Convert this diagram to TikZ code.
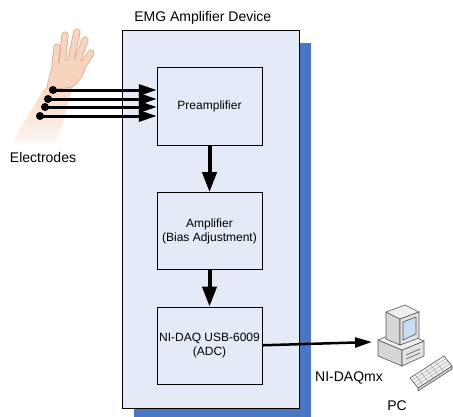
\documentclass[tikz,border=0pt]{standalone}
\usepackage{fontspec}
\setmainfont{Liberation Sans}
\usetikzlibrary{arrows.meta, positioning, calc, shadows}
\definecolor{devfill}{HTML}{E4EAF6}
\definecolor{devshadow}{HTML}{4A76C2}
\definecolor{skin}{HTML}{F7D4BD}
\definecolor{skinline}{HTML}{D8A88E}
\definecolor{pcgray}{HTML}{D6D6D6}
\definecolor{pcline}{HTML}{555555}
\definecolor{pcscreen}{HTML}{C9DDF2}

\tikzset{
  stage/.style={draw, fill=devfill, minimum width=105pt, inner sep=2pt, align=center,
    font=\fontsize{12}{14}\selectfont},
  caption/.style={font=\fontsize{14}{16}\selectfont},
  sig/.style={-{Triangle[length=18pt,width=11pt]}, line width=3pt},
  flow/.style={-{Triangle[length=20pt,width=14pt]}, line width=4pt},
  link/.style={-{Triangle[length=17pt,width=10pt]}, line width=2.5pt},
  pcpart/.style={draw=pcline, line width=0.6pt, line join=round},
}

\begin{document}
\begin{tikzpicture}[x=1pt, y=-1pt]
  \useasboundingbox (0,0) rectangle (453,416);

  % Forearm, fading out towards the elbow
  \shade[top color=skin, bottom color=skin!20, rounded corners=4pt]
    (12,142) -- (46,86) -- (74,83) -- (57,142) -- cycle;

  % Hand: finger outlines, palm, then finger fills
  \foreach \xa/\ya/\xb/\yb in {54/76/57/47, 62/66/65/35, 70/64/77/32, 76/65/85/40, 81/68/91/53}
    \draw[skinline, line width=7.2pt, line cap=round] (\xa,\ya) -- (\xb,\yb);
  \path[fill=skin, draw=skinline, line width=0.6pt, rounded corners=5pt]
    (46,90) -- (52,66) -- (70,58) -- (86,62) -- (84,74) -- (74,87) -- cycle;
  \foreach \xa/\ya/\xb/\yb in {54/76/57/47, 62/66/65/35, 70/64/77/32, 76/65/85/40, 81/68/91/53}
    \draw[skin, line width=5.6pt, line cap=round] (\xa,\ya) -- (\xb,\yb);

  % Amplifier device
  \node[draw, fill=devfill, minimum width=177pt, minimum height=378pt,
    drop shadow={fill=devshadow, opacity=1, shadow xshift=12pt, shadow yshift=-13pt}]
    (dev) at (210.5,219) {};
  \node[caption, anchor=south west] (devlab) at ([xshift=9pt, yshift=2pt]dev.north west) {EMG Amplifier Device};

  % Stages
  \node[stage, minimum height=78pt] (pre) at (209.5,106) {Preamplifier};
  \node[stage, minimum height=77pt, below=47pt of pre] (amp) {Amplifier\\(Bias Adjustment)};
  \node[stage, minimum height=77pt, below=37pt of amp] (daq) {NI-DAQ USB-6009\\(ADC)};

  \draw[flow] (pre) -- (amp);
  \draw[flow] (amp) -- (daq);

  % Electrodes on the forearm
  \foreach \i/\x/\y in {1/53/90, 2/48/99, 3/45/107, 4/40/116} {
    \coordinate (e\i) at (\x,\y);
    \draw[sig] (e\i) -- (e\i -| pre.west);
    \fill (e\i) circle (4pt);
  }
  \node[caption] (elab) at (43,157) {Electrodes};

  % PC
  \path[pcpart, fill=pcgray] (378,340) -- (402,350) -- (402,366) -- (378,356) -- cycle;
  \path[pcpart, fill=pcgray!70] (402,350) -- (424,341) -- (424,356) -- (402,366) -- cycle;
  \path[pcpart, fill=pcgray!40] (378,340) -- (400,331) -- (424,341) -- (402,350) -- cycle;
  \draw[pcpart] (406,355) -- (420,349) (406,359) -- (420,353);
  \path[pcpart, fill=pcgray] (386,312) -- (400,319) -- (400,345) -- (386,339) -- cycle;
  \path[pcpart, fill=pcgray!40] (386,312) -- (405,305) -- (419,312) -- (400,319) -- cycle;
  \path[pcpart, fill=pcgray!70] (400,319) -- (419,312) -- (419,338) -- (400,345) -- cycle;
  \path[pcpart, fill=pcscreen] (403,322) -- (416,317) -- (416,334) -- (403,340) -- cycle;
  % keyboard
  \path[pcpart, fill=pcgray] (418,388) -- (452,366) -- (452,369) -- (418,391) -- cycle;
  \path[pcpart, fill=pcgray!30] (410,378) -- (444,356) -- (452,366) -- (418,388) -- cycle;
  \foreach \t in {0.25,0.5,0.75}
    \draw[pcline!60, line width=0.4pt] ($(410,378)!\t!(418,388)$) -- ($(444,356)!\t!(452,366)$);
  \foreach \t in {0.15,0.3,...,0.9}
    \draw[pcline!60, line width=0.4pt] ($(410,378)!\t!(444,356)$) -- ($(418,388)!\t!(452,366)$);
  \coordinate (pcin) at (372,342);
  \node[caption] (pclab) at (397,406) {PC};

  \draw[link] (daq.east) -- (pcin);
  \node[caption] (api) at (349,378) {NI-DAQmx};
\end{tikzpicture}
\end{document}
